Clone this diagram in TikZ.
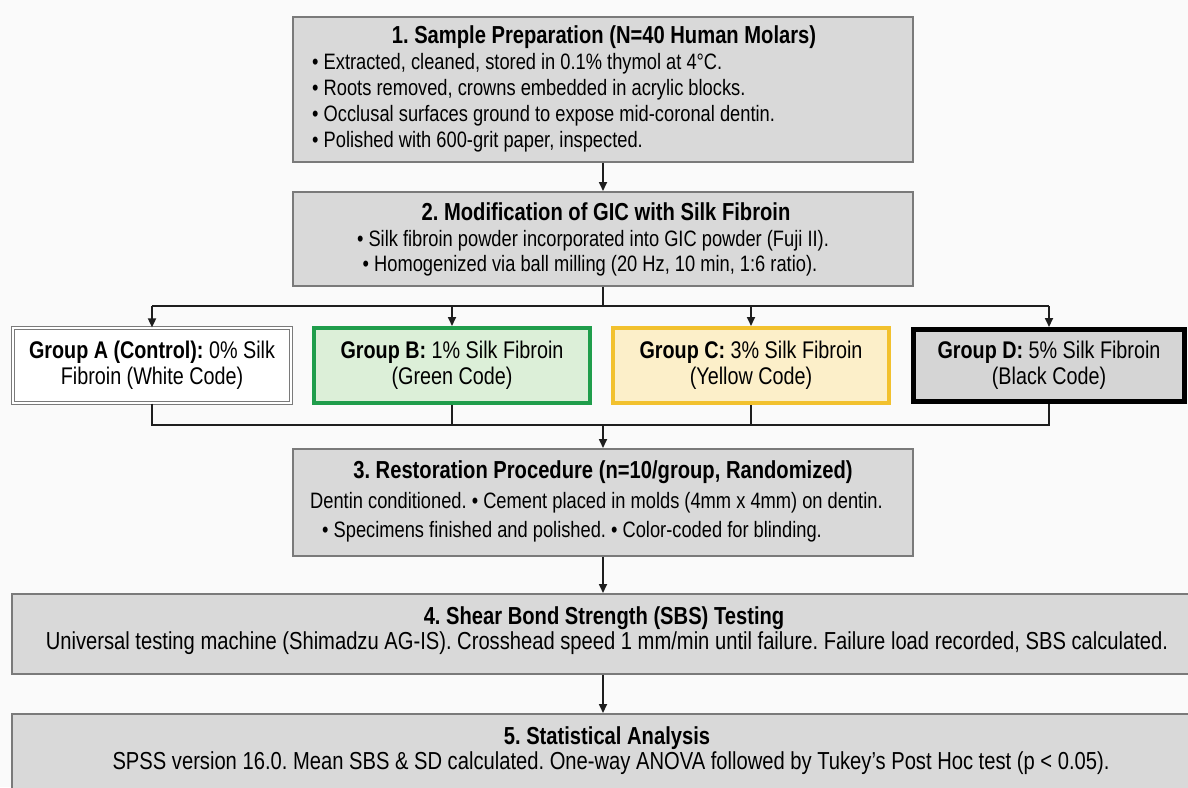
\documentclass[tikz,border=0pt]{standalone}
\usepackage{fontspec}
\setmainfont{Liberation Sans}[FakeStretch=0.82]
\usetikzlibrary{arrows.meta}
\definecolor{bgc}{HTML}{FAFAFA}
\definecolor{boxfill}{HTML}{D9D9D9}
\definecolor{boxline}{HTML}{7A7A7A}
\definecolor{grnline}{HTML}{1F9D4B}
\definecolor{grnfill}{HTML}{DCEFD8}
\definecolor{ylwline}{HTML}{F2C12E}
\definecolor{ylwfill}{HTML}{FCEFC9}
\definecolor{dfill}{HTML}{D5D5D5}
\definecolor{conc}{HTML}{1E1E1E}
\frenchspacing
\begin{document}
\begin{tikzpicture}[x=1pt,y=-1pt,
  graybox/.style={draw=boxline, fill=boxfill, line width=1.6pt, inner sep=0pt, anchor=north},
  ttl/.style={font=\bfseries\fontsize{24.6}{28}\selectfont, inner sep=0pt, text=black},
  bodyA/.style={font=\fontsize{22.3}{26}\selectfont, inner sep=0pt, text=black},
  bodyB/.style={font=\fontsize{24.6}{28}\selectfont, inner sep=0pt, text=black},
  grp/.style={font=\fontsize{24.1}{26}\selectfont, align=center, inner sep=0pt, text=black},
  conn/.style={draw=conc, line width=1.7pt},
  arr/.style={conn, -{Triangle[length=9pt,width=8pt]}}]
\clip (0,0) rectangle (1188,787);
\fill[bgc] (0,0) rectangle (1188,787);

% Box 1
\node[graybox, minimum width=620, minimum height=145] (b1) at (603,16) {};
\node[ttl] (t1) at (604,37) {1. Sample Preparation (N=40 Human Molars)};
\node[bodyA, anchor=west] (t1a) at (312,64) {• Extracted, cleaned, stored in 0.1\% thymol at 4°C.};
\node[bodyA, anchor=west] (t1b) at (312,90) {• Roots removed, crowns embedded in acrylic blocks.};
\node[bodyA, anchor=west] (t1c) at (312,116) {• Occlusal surfaces ground to expose mid-coronal dentin.};
\node[bodyA, anchor=west] (t1d) at (312,142) {• Polished with 600-grit paper, inspected.};

% Box 2
\node[graybox, minimum width=620, minimum height=94] (b2) at (603,191) {};
\node[ttl] (t2) at (606,212) {2. Modification of GIC with Silk Fibroin};
\node[bodyA] (t2a) at (593,241) {• Silk fibroin powder incorporated into GIC powder (Fuji II).};
\node[bodyA] (t2b) at (590,266) {• Homogenized via ball milling (20 Hz, 10 min, 1:6 ratio).};

% Groups
\node[grp, draw=boxline, line width=1.2pt, double=white, double distance=2.2pt, fill=white,
      minimum width=278, minimum height=75] (gA) at (152,365.5)
      {\textbf{Group A (Control):} 0\% Silk\\Fibroin (White Code)};
\node[grp, draw=grnline, fill=grnfill, line width=4pt, minimum width=276, minimum height=75] (gB) at (452,365.5)
      {\textbf{Group B:} 1\% Silk Fibroin\\(Green Code)};
\node[grp, draw=ylwline, fill=ylwfill, line width=4pt, minimum width=276, minimum height=75] (gC) at (751,365.5)
      {\textbf{Group C:} 3\% Silk Fibroin\\(Yellow Code)};
\node[grp, draw=black, fill=dfill, line width=5pt, minimum width=271, minimum height=72] (gD) at (1049,365.5)
      {\textbf{Group D:} 5\% Silk Fibroin\\(Black Code)};

% Box 3
\node[graybox, minimum width=620, minimum height=107] (b3) at (603,448) {};
\node[ttl] (t3) at (603,472) {3. Restoration Procedure (n=10/group, Randomized)};
\node[bodyA, anchor=west] (t3a) at (310,503) {Dentin conditioned. • Cement placed in molds (4mm x 4mm) on dentin.};
\node[bodyA, anchor=west] (t3b) at (322,532) {• Specimens finished and polished. • Color-coded for blinding.};

% Box 4
\node[graybox, minimum width=1190, minimum height=80] (b4) at (607,593) {};
\node[ttl] (t4) at (604,618) {4. Shear Bond Strength (SBS) Testing};
\node[bodyB] (t4a) at (607,643) {Universal testing machine (Shimadzu AG-IS). Crosshead speed 1 mm/min until failure. Failure load recorded, SBS calculated.};

% Box 5
\node[graybox, minimum width=1190, minimum height=110] (b5) at (607,713) {};
\node[ttl] (t5) at (607,738) {5. Statistical Analysis};
\node[bodyB] (t5a) at (611,763) {SPSS version 16.0. Mean SBS \& SD calculated. One-way ANOVA followed by Tukey’s Post Hoc test (p < 0.05).};

% Connectors
\coordinate (s2) at (603,306);
\coordinate (s3) at (603,425);
\draw[arr] (b1.south) -- (b2.north);
\draw[conn] (b2.south) -- (s2);
\draw[conn] (gA.north |- s2) -- (gD.north |- s2);
\draw[arr] (gA.north |- s2) -- (gA.north);
\draw[arr] (gB.north |- s2) -- (gB.north);
\draw[arr] (gC.north |- s2) -- (gC.north);
\draw[arr] (gD.north |- s2) -- (gD.north);
\draw[conn] (gA.south) -- (gA.south |- s3) -- (gD.south |- s3) -- (gD.south);
\draw[conn] (gB.south) -- (gB.south |- s3);
\draw[conn] (gC.south) -- (gC.south |- s3);
\draw[arr] (s3) -- (b3.north);
\draw[arr] (b3.south) -- (b3.south |- b4.north);
\draw[arr] (b3.south |- b4.south) -- (b3.south |- b5.north);
\end{tikzpicture}
\end{document}
